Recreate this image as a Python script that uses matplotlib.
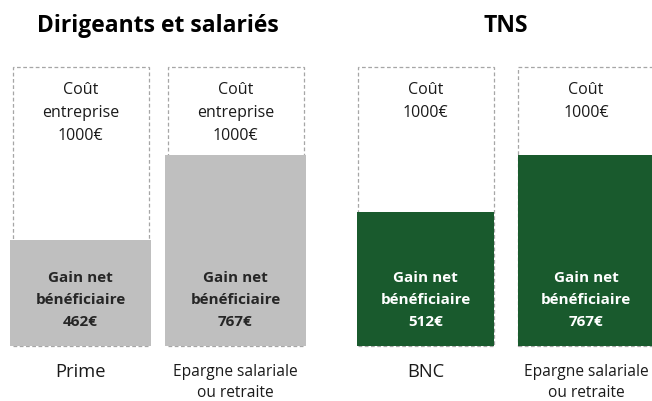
import matplotlib.pyplot as plt
from matplotlib.patches import Rectangle

# data
categories = ["Prime", "Epargne salariale\nou retraite", "BNC", "Epargne salariale\nou retraite"]
groups = ["Dirigeants et salariés", "TNS"]
cost = [1000, 1000, 1000, 1000]
gain = [462, 767, 512, 767]
# filled height as drawn in the source graphic (box = 1000), not to scale with the gain
drawn_height = [380, 685, 480, 685]
cost_labels = ["Coût\nentreprise\n1000€", "Coût\nentreprise\n1000€", "Coût\n1000€", "Coût\n1000€"]

# layout (x in pixel-like units)
centers = [80.5, 235.5, 425.5, 586]
fill_w = [141, 141, 137, 137]
box_w = [136, 136, 136, 136]
colors = ["#bfbfbf", "#bfbfbf", "#195a2d", "#195a2d"]
gain_text_colors = ["#262626", "#262626", "white", "white"]
cat_sizes = [13.2, 11.2, 13.2, 11.2]

plt.rcParams['font.family'] = ['Open Sans', 'DejaVu Sans']

fig = plt.figure(figsize=(6.52, 4.01), dpi=100)
ax = fig.add_axes([0, 0, 1, 1])
px = 1000 / 279


def ypix(p):
    # pixel row (from top) -> data y
    return (346 - p) * px


ax.set_xlim(0, 652)
ax.set_ylim(ypix(401), ypix(0))
ax.axis("off")

for i in range(4):
    ax.add_patch(Rectangle((centers[i] - box_w[i] / 2, 0), box_w[i], cost[i],
                           fill=False, edgecolor="#a6a6a6", linewidth=0.9,
                           linestyle=(0, (3, 2))))
    ax.bar(centers[i], drawn_height[i], width=fill_w[i], color=colors[i], zorder=2)
    for j, line in enumerate(cost_labels[i].split("\n")):
        ax.text(centers[i], ypix(90 + 23 * j), line, ha="center", va="center",
                fontsize=11.5, color="#1a1a1a")
    gl = ["Gain net", "bénéficiaire", "%d€" % gain[i]]
    for j, line in enumerate(gl):
        ax.text(centers[i], ypix(278 + 22 * j), line, ha="center", va="center",
                fontsize=11, fontweight="bold", color=gain_text_colors[i], zorder=3)
    for j, line in enumerate(categories[i].split("\n")):
        ax.text(centers[i], ypix(372 + 21 * j), line, ha="center", va="center",
                fontsize=cat_sizes[i], color="#1a1a1a")

# group titles
ax.text((centers[0] + centers[1]) / 2, ypix(26), groups[0], ha="center",
        va="center", fontsize=16.5, fontweight="bold", color="black")
ax.text((centers[2] + centers[3]) / 2, ypix(26), groups[1], ha="center",
        va="center", fontsize=16.5, fontweight="bold", color="black")

fig.savefig("out.png", dpi=100)
